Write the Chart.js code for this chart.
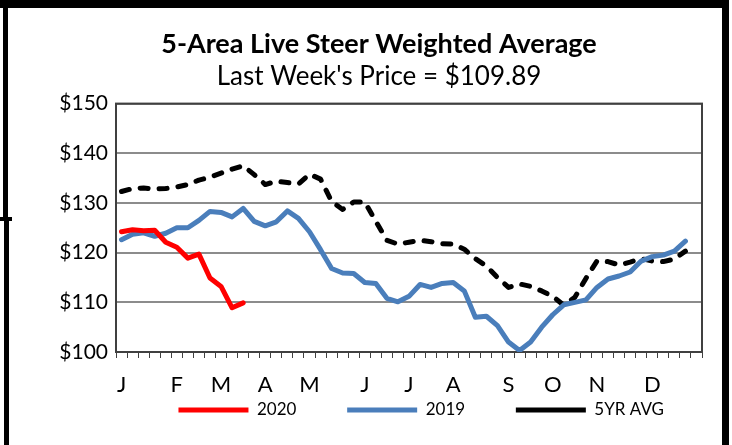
<!DOCTYPE html>
<html>
<head>
<meta charset="utf-8">
<script src="https://cdn.jsdelivr.net/npm/chart.js@4.4.1/dist/chart.umd.min.js"></script>
<style>
  html, body { margin: 0; padding: 0; background: #fff; }
  #wrap { position: relative; width: 732px; height: 445px; overflow: hidden; background: #fff; }
  #chart { position: absolute; left: 0; top: 0; }
  .frame { position: absolute; background: #000; }
</style>
</head>
<body>
<div id="wrap">
  <canvas id="chart" width="732" height="445"></canvas>
  <div class="frame" style="left:0;top:0;width:729px;height:8px"></div>
  <div class="frame" style="left:3px;top:0;width:5px;height:219px"></div>
  <div class="frame" style="left:0;top:217px;width:12px;height:4px"></div>
  <div class="frame" style="left:4px;top:219px;width:5px;height:226px"></div>
  <div class="frame" style="left:722px;top:0;width:7px;height:445px"></div>
</div>
<script>
// weekly categories, month letter on the first week of each month
const weekLabels = [
  'J', '', '', '', '', 'F', '', '', '', 'M', '', '', '', 'A', '', '', '', 'M',
  '', '', '', '', 'J', '', '', '', 'J', '', '', '', 'A', '', '', '', '', 'S',
  '', '', '', 'O', '', '', '', 'N', '', '', '', '', 'D', '', '', '', ''
];

const price2020 = [124.2, 124.6, 124.4, 124.5, 122.1, 121.1, 118.9, 119.7, 114.9, 113.2, 108.9, 109.89];

const price2019 = [
  122.6, 123.7, 124.0, 123.3, 123.9, 125.0, 125.0, 126.5, 128.3, 128.1, 127.2, 128.9,
  126.3, 125.4, 126.2, 128.4, 126.9, 124.2, 120.6, 116.8, 115.9, 115.8, 114.0, 113.8,
  110.8, 110.1, 111.2, 113.6, 113.0, 113.8, 114.0, 112.3, 107.0, 107.2, 105.3, 102.0,
  100.3, 102.0, 105.0, 107.5, 109.5, 110.0, 110.5, 113.0, 114.7, 115.3, 116.1, 118.3,
  119.2, 119.5, 120.3, 122.3
];

const avg5yr = [
  132.3, 132.9, 133.0, 132.8, 132.9, 133.2, 133.7, 134.6, 135.2, 136.0, 136.8, 137.5,
  135.7, 133.7, 134.4, 134.1, 133.8, 135.8, 134.8, 130.3, 128.7, 130.2, 130.2, 126.3,
  122.5, 121.7, 122.1, 122.5, 122.2, 121.8, 121.7, 120.7, 118.8, 117.3, 115.0, 113.0,
  113.7, 113.2, 112.3, 111.2, 109.4, 111.0, 114.8, 118.3, 118.2, 117.5, 118.1, 118.8,
  118.3, 118.2, 118.7, 120.3
];

const yMin = 100;
const yMax = 150;
const yStep = 10;

Chart.defaults.font.family = 'Lato, "Open Sans", sans-serif';
Chart.defaults.color = '#000';

// box around the plot area
const plotFrame = {
  id: 'plotFrame',
  beforeDatasetsDraw(chart) {
    const { ctx, chartArea: a } = chart;
    ctx.save();
    ctx.strokeStyle = '#404040';
    ctx.lineWidth = 2;
    ctx.strokeRect(a.left, a.top, a.right - a.left, a.bottom - a.top);
    ctx.restore();
  }
};

// spacing after legend texts (legend padding is also vertical, so keep it small)
const legendGap = '\u2003\u2003\u2003\u2002';
const legendTail = '\u2003\u2003\u2002';

new Chart(document.getElementById('chart'), {
  type: 'line',
  data: {
    labels: weekLabels,
    datasets: [
      {
        label: '2020',
        data: price2020,
        borderColor: '#FF0000',
        backgroundColor: '#FF0000',
        borderWidth: 5,
        borderCapStyle: 'round',
        borderJoinStyle: 'round'
      },
      {
        label: '2019',
        data: price2019,
        borderColor: '#4A7EBB',
        backgroundColor: '#4A7EBB',
        borderWidth: 5,
        borderCapStyle: 'round',
        borderJoinStyle: 'round'
      },
      {
        label: '5YR AVG',
        data: avg5yr,
        borderColor: '#000',
        backgroundColor: '#000',
        borderWidth: 5,
        borderDash: [8, 11],
        borderCapStyle: 'round',
        borderJoinStyle: 'round'
      }
    ]
  },
  options: {
    responsive: false,
    animation: false,
    elements: { point: { radius: 0, hoverRadius: 0 }, line: { tension: 0 } },
    layout: { padding: { left: 56, right: 30, top: 8, bottom: 16.5 } },
    plugins: {
      tooltip: { enabled: false },
      title: {
        display: true,
        text: '5-Area Live Steer Weighted Average',
        font: { size: 27, weight: 'bold' },
        padding: { top: 20, bottom: 0 }
      },
      subtitle: {
        display: true,
        text: "Last Week's Price = $109.89",
        font: { size: 26, weight: 'normal' },
        padding: { top: 1, bottom: 11 }
      },
      legend: {
        position: 'bottom',
        fullSize: false,
        align: 'end',
        labels: {
          usePointStyle: true,
          pointStyle: 'line',
          pointStyleWidth: 70,
          padding: 4,
          font: { size: 17 },
          generateLabels: chart =>
            Chart.defaults.plugins.legend.labels.generateLabels(chart).map((item, i, all) => ({
              ...item,
              text: item.text + (i < all.length - 1 ? legendGap : legendTail)
            }))
        }
      }
    },
    scales: {
      x: {
        type: 'category',
        offset: true,
        afterFit: scale => { scale.height = 45.5; },
        grid: {
          offset: true,
          drawOnChartArea: false,
          drawTicks: true,
          tickLength: 6,
          tickColor: '#404040',
          tickWidth: 1
        },
        border: { color: '#404040', width: 2 },
        ticks: { autoSkip: false, maxRotation: 0, padding: 14, font: { size: 22 } }
      },
      y: {
        min: yMin,
        max: yMax,
        afterFit: scale => { scale.width = 60; },
        grid: { color: '#8C8C8C', lineWidth: 2, drawTicks: false },
        border: { color: '#404040', width: 2 },
        ticks: { stepSize: yStep, padding: 8, font: { size: 21 }, callback: v => '$' + v }
      }
    }
  },
  plugins: [plotFrame]
});
</script>
</body>
</html>
